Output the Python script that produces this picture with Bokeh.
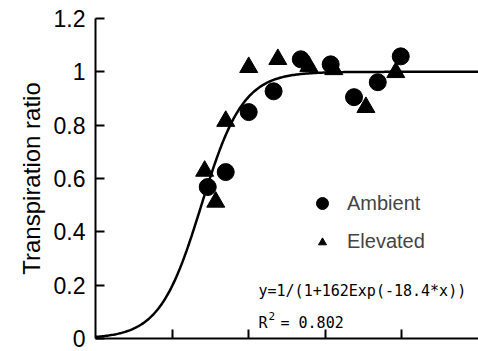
import numpy as np
from bokeh.plotting import figure
from bokeh.models import Range1d, FixedTicker, Legend, LegendItem, Label
from bokeh.embed import file_html
from bokeh.resources import INLINE

# Data
amb_x = [0.293, 0.340, 0.400, 0.465, 0.536, 0.614, 0.675, 0.737, 0.797]
amb_y = [0.568, 0.624, 0.849, 0.927, 1.047, 1.028, 0.905, 0.961, 1.058]
elv_x = [0.285, 0.314, 0.340, 0.400, 0.476, 0.557, 0.622, 0.706, 0.784]
elv_y = [0.628, 0.512, 0.815, 1.017, 1.047, 1.021, 1.009, 0.867, 0.998]

# Fitted model shown in the chart: y = 1/(1 + A*exp(-B*x))
fit_A = 162.0
fit_B = 18.4
eq_text = "y=1/(1+162Exp(-18.4*x))"
r2_value = "= 0.802"

y_ticks = [0, 0.2, 0.4, 0.6, 0.8, 1.0, 1.2]
y_labels = {0: "0", 0.2: "0.2", 0.4: "0.4", 0.6: "0.6", 0.8: "0.8", 1.0: "1", 1.2: "1.2"}
x_ticks = [0.2, 0.4, 0.6, 0.8]

p = figure(width=478, height=351, output_backend="svg", toolbar_location=None,
           x_range=Range1d(0, 1.0), y_range=Range1d(0, 1.2),
           min_border_left=95, min_border_right=0, min_border_top=18, min_border_bottom=13)
p.outline_line_color = None
p.grid.visible = False
p.background_fill_color = "white"

FONT = "Liberation Sans"
MONO = "DejaVu Sans Mono"

# axes
for ax in (p.xaxis[0], p.yaxis[0]):
    ax.axis_line_width = 2
    ax.axis_line_color = "black"
    ax.major_tick_in = 9
    ax.major_tick_out = 0
    ax.major_tick_line_width = 2
    ax.major_tick_line_color = "black"
    ax.minor_tick_line_color = None

p.xaxis.ticker = FixedTicker(ticks=x_ticks)
p.xaxis.major_label_text_font_size = "0px"
p.xaxis.major_label_text_alpha = 0

p.yaxis.ticker = FixedTicker(ticks=y_ticks)
p.yaxis.major_label_overrides = y_labels
p.yaxis.major_label_text_font = FONT
p.yaxis.major_label_text_font_size = "23px"
p.yaxis.major_label_text_color = "black"
p.yaxis.major_label_standoff = 10
p.yaxis.axis_label = "Transpiration ratio"
p.yaxis.axis_label_text_font = FONT
p.yaxis.axis_label_text_font_size = "24px"
p.yaxis.axis_label_text_font_style = "normal"
p.yaxis.axis_label_text_color = "black"
p.yaxis.axis_label_standoff = 6

# fitted curve
xs = np.linspace(0, 1.0, 300)
ys = 1.0 / (1.0 + fit_A * np.exp(-fit_B * xs))
p.line(xs, ys, line_color="black", line_width=2.5)

# points
r_amb = p.scatter(amb_x, amb_y, marker="circle", size=17, fill_color="black", line_color="black")
r_elv = p.scatter(elv_x, elv_y, marker="triangle", size=18, fill_color="black", line_color="black")

leg1 = Legend(items=[LegendItem(label="Ambient", renderers=[r_amb])],
              location=(212, 120), glyph_width=30, glyph_height=30,
              padding=0, margin=0, spacing=0, label_standoff=10,
              border_line_alpha=0, background_fill_alpha=0,
              label_text_font=FONT, label_text_font_size="20px", label_height=30)
leg2 = Legend(items=[LegendItem(label="Elevated", renderers=[r_elv])],
              location=(217, 85), glyph_width=20, glyph_height=20,
              padding=0, margin=0, spacing=0, label_standoff=15,
              border_line_alpha=0, background_fill_alpha=0,
              label_text_font=FONT, label_text_font_size="20px", label_height=20)
p.add_layout(leg1, "center")
p.add_layout(leg2, "center")

p.add_layout(Label(x=163, y=48, x_units="screen", y_units="screen", text=eq_text,
                   text_font=MONO, text_font_size="15px", text_baseline="middle",
                   text_color="black"))
p.add_layout(Label(x=163, y=16, x_units="screen", y_units="screen", text="R",
                   text_font=MONO, text_font_size="15px", text_baseline="middle",
                   text_color="black"))
p.add_layout(Label(x=173, y=23, x_units="screen", y_units="screen", text="2",
                   text_font=MONO, text_font_size="11px", text_baseline="middle",
                   text_color="black"))
p.add_layout(Label(x=185, y=16, x_units="screen", y_units="screen", text=r2_value,
                   text_font=MONO, text_font_size="15px", text_baseline="middle",
                   text_color="black"))

open("out.html", "w").write(file_html(p, INLINE))
